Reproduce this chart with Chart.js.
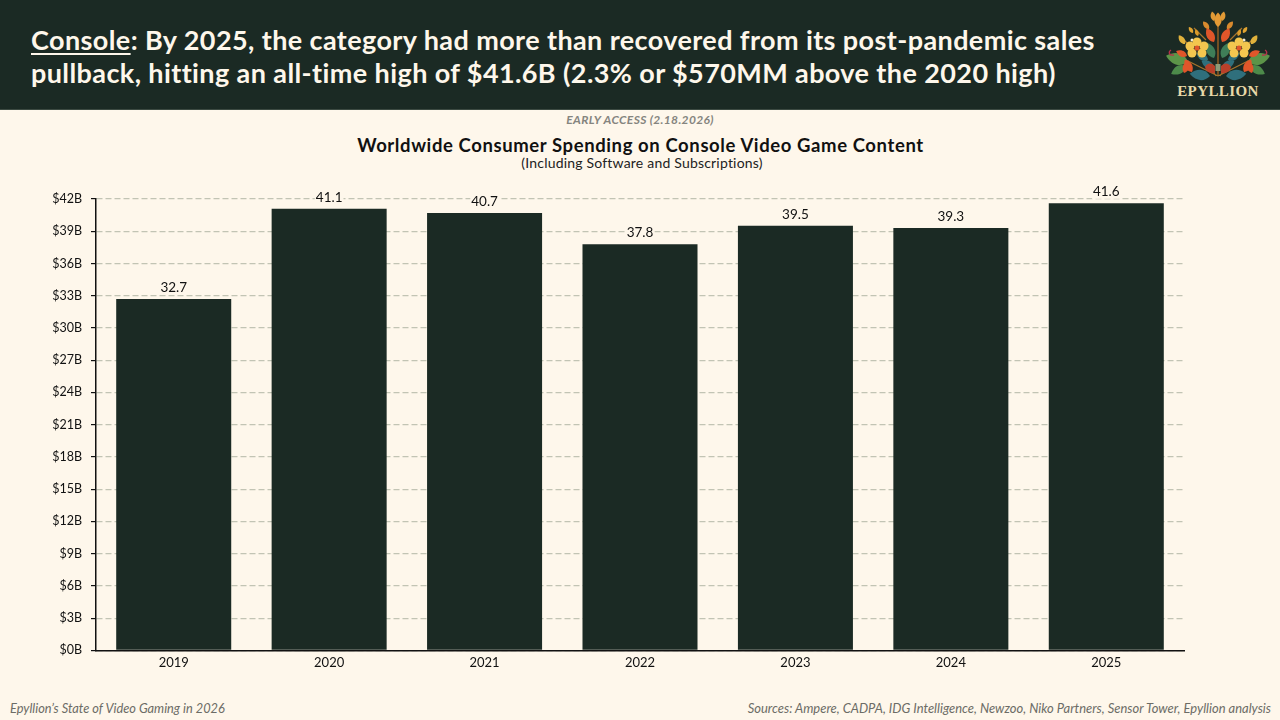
<!DOCTYPE html>
<html>
<head>
<meta charset="utf-8">
<title>Console</title>
<script src="https://cdn.jsdelivr.net/npm/chart.js@4"></script>
<style>
    html, body { margin: 0; padding: 0; width: 1280px; height: 720px; overflow: hidden; background: #fef7eb; font-family: Lato, sans-serif; }
    .header { position: absolute; left: 0; top: 0; width: 1280px; height: 109px; background: #1b2a24; border-bottom: 1px solid #3c4a42; }
    .headline { position: absolute; left: 31px; top: 23px; width: 1120px; color: #fef7eb; font-size: 27px; letter-spacing: 0.4px; line-height: 33px; font-weight: 700; white-space: nowrap; }
    .headline u { text-underline-offset: 3px; text-decoration-thickness: 2px; }
    .wordmark { position: absolute; left: 1170px; top: 83px; width: 96px; text-align: center; color: #e8d9a8; font-family: "Liberation Serif", serif; font-weight: 700; font-size: 15px; letter-spacing: 0.4px; }
    .logo { position: absolute; left: 1166px; top: 10px; width: 104px; height: 72px; }
    .access { position: absolute; left: 0; top: 112px; width: 1280px; text-align: center; color: #85857f; font-size: 12px; letter-spacing: 0.35px; font-style: italic; font-weight: 700; }
    .chartTitle { position: absolute; left: 0; top: 134px; width: 1281px; text-align: center; color: #111; font-size: 18.5px; letter-spacing: 0.6px; font-weight: 700; }
    .chartSub { position: absolute; left: 0; top: 154px; width: 1284px; text-align: center; color: #222; font-size: 14px; letter-spacing: 0.2px; }
    .foot { position: absolute; top: 700px; color: #6c6c66; font-size: 12.8px; font-style: italic; }
    #chartBox { position: absolute; left: 0; top: 170px; width: 1280px; height: 506px; }
</style>
</head>
<body>
<div class="header">
    <div class="headline"><u>Console</u>: By 2025, the category had more than recovered from its post-pandemic sales<br>pullback, hitting an all-time high of $41.6B (2.3% or $570MM above the 2020 high)</div>
    <svg class="logo" viewBox="-52 10 104 72">
        <defs>
            <path id="leaf" d="M0 0C4 -3 4 -8 0 -12C-4 -8 -4 -3 0 0Z"/>
            <g id="sideHalf">
                <g fill="none" stroke="#a8742c" stroke-width="1.2">
                    <path d="M0 76L36 58M2 76L20 48M12 40L24 28M28 46L38 36"/>
                </g>
                <g stroke="none">
                    <use href="#leaf" transform="translate(4,21) rotate(12) scale(.8)" fill="#e29a35"/>
                    <use href="#leaf" transform="translate(9,29) rotate(38) scale(.8)" fill="#d98a2e"/>
                    <use href="#leaf" transform="translate(4,42) rotate(28) scale(1.3)" fill="#e0562a"/>
                    <use href="#leaf" transform="translate(4,58) rotate(24) scale(1.4)" fill="#3f7d58"/>
                    <use href="#leaf" transform="translate(4,68) rotate(60) scale(1.2)" fill="#2f6f7c"/>
                    <use href="#leaf" transform="translate(20,36) rotate(20) scale(.6)" fill="#d99a2b"/>
                    <use href="#leaf" transform="translate(25,33) rotate(35) scale(.6)" fill="#e0a432"/>
                    <use href="#leaf" transform="translate(33,44) rotate(35) scale(.9)" fill="#e0b23c"/>
                    <use href="#leaf" transform="translate(26,52) rotate(50) scale(.6)" fill="#c9962c"/>
                    <use href="#leaf" transform="translate(30,62) rotate(74) scale(1.9)" fill="#5c9448"/>
                    <use href="#leaf" transform="translate(32,66) rotate(118) scale(1.4)" fill="#4d8a4a"/>
                    <use href="#leaf" transform="translate(26,72) rotate(30) scale(1.2)" fill="#e0562a"/>
                    <use href="#leaf" transform="translate(34,73) rotate(-20) scale(1.1)" fill="#e0562a"/>
                    <use href="#leaf" transform="translate(8,76) rotate(84) scale(1.7)" fill="#2f6f7c"/>
                    <use href="#leaf" transform="translate(31,56) rotate(65) scale(1)" fill="#e0562a"/>
                    <use href="#leaf" transform="translate(10,60) rotate(60) scale(1.1)" fill="#2f6f7c"/>
                </g>
                <path d="M44 55c5 1 6-3 3-5" fill="none" stroke="#b5304a" stroke-width="1.3"/>
                <circle cx="26" cy="40" r="1.5" fill="#f4efe0"/>
                <g fill="#f3c64f">
                    <circle cx="21" cy="42" r="4.5"/><circle cx="28" cy="46" r="4.5"/><circle cx="26" cy="53" r="4.5"/>
                    <circle cx="16" cy="53" r="4.5"/><circle cx="14" cy="46" r="4.5"/>
                </g>
                <circle cx="21" cy="48" r="2.6" fill="#e0562a"/>
                <path d="M3 66c4-4 8-3 10 1c-1 5-6 7-10 6z" fill="#b8402a"/>
            </g>
        </defs>
        <path d="M0 76V18" stroke="#8a5a24" stroke-width="1.6"/>
        <use href="#leaf" transform="translate(0,27) scale(1.2)" fill="#e59a35"/>
        <use href="#sideHalf"/>
        <use href="#sideHalf" transform="scale(-1,1)"/>
        <rect x="-2.5" y="64" width="5" height="7" fill="#8d9a78"/>
    </svg>
    <div class="wordmark">EPYLLION</div>
</div>
<div class="access">EARLY ACCESS (2.18.2026)</div>
<div class="chartTitle">Worldwide Consumer Spending on Console Video Game Content</div>
<div class="chartSub">(Including Software and Subscriptions)</div>
<div id="chartBox"><canvas id="spendChart"></canvas></div>
<div class="foot" style="left:10px">Epyllion’s State of Video Gaming in 2026</div>
<div class="foot" style="right:9px;font-size:12.95px">Sources: Ampere, CADPA, IDG Intelligence, Newzoo, Niko Partners, Sensor Tower, Epyllion analysis</div>

<script>
const years = ['2019', '2020', '2021', '2022', '2023', '2024', '2025'];
const spending = [32.7, 41.1, 40.7, 37.8, 39.5, 39.3, 41.6];
const yTicks = [0, 3, 6, 9, 12, 15, 18, 21, 24, 27, 30, 33, 36, 39, 42];

const ink = '#1b2a24';
const paper = '#fef7eb';

// value labels sit above each bar and knock out the grid line behind them
const barLabels = {
    id: 'barLabels',
    afterDatasetsDraw(chart) {
        const ctx = chart.ctx;
        ctx.save();
        ctx.font = '13.5px Lato';
        ctx.textAlign = 'center';
        ctx.textBaseline = 'middle';
        chart.getDatasetMeta(0).data.forEach((bar, i) => {
            const text = spending[i].toFixed(1);
            const w = ctx.measureText(text).width;
            const y = bar.y - 11.5;
            ctx.fillStyle = paper;
            ctx.fillRect(bar.x - w / 2 - 1, y - 7, w + 2, 14);
            ctx.fillStyle = '#111';
            ctx.fillText(text, bar.x, y);
        });
        ctx.restore();
    }
};

new Chart(document.getElementById('spendChart'), {
    type: 'bar',
    data: {
        labels: years,
        datasets: [{
            data: spending,
            backgroundColor: ink,
            categoryPercentage: 0.74,
            barPercentage: 1
        }]
    },
    options: {
        responsive: true,
        maintainAspectRatio: false,
        animation: false,
        layout: { padding: { left: 0, right: 96, top: 29, bottom: 0 } },
        plugins: {
            legend: { display: false },
            tooltip: { enabled: false }
        },
        scales: {
            x: {
                grid: { display: false, drawTicks: false },
                border: { color: '#111', width: 1.5 },
                ticks: { color: '#111', font: { family: 'Lato', size: 13 }, padding: 5 }
            },
            y: {
                min: 0,
                max: 42,
                afterBuildTicks(scale) {
                    scale.ticks = yTicks.map(v => ({ value: v }));
                },
                afterFit(scale) {
                    scale.width = 96;
                },
                grid: {
                    color: '#c2c4b4',
                    lineWidth: 1.2,
                    tickColor: '#111',
                    tickLength: 5,
                    tickBorderDash: []
                },
                border: { color: '#111', width: 1.5, dash: [6, 3] },
                ticks: {
                    color: '#111',
                    font: { family: 'Lato', size: 12.5 },
                    padding: 9,
                    callback: v => '$' + v + 'B'
                }
            }
        }
    },
    plugins: [barLabels]
});
</script>
</body>
</html>
